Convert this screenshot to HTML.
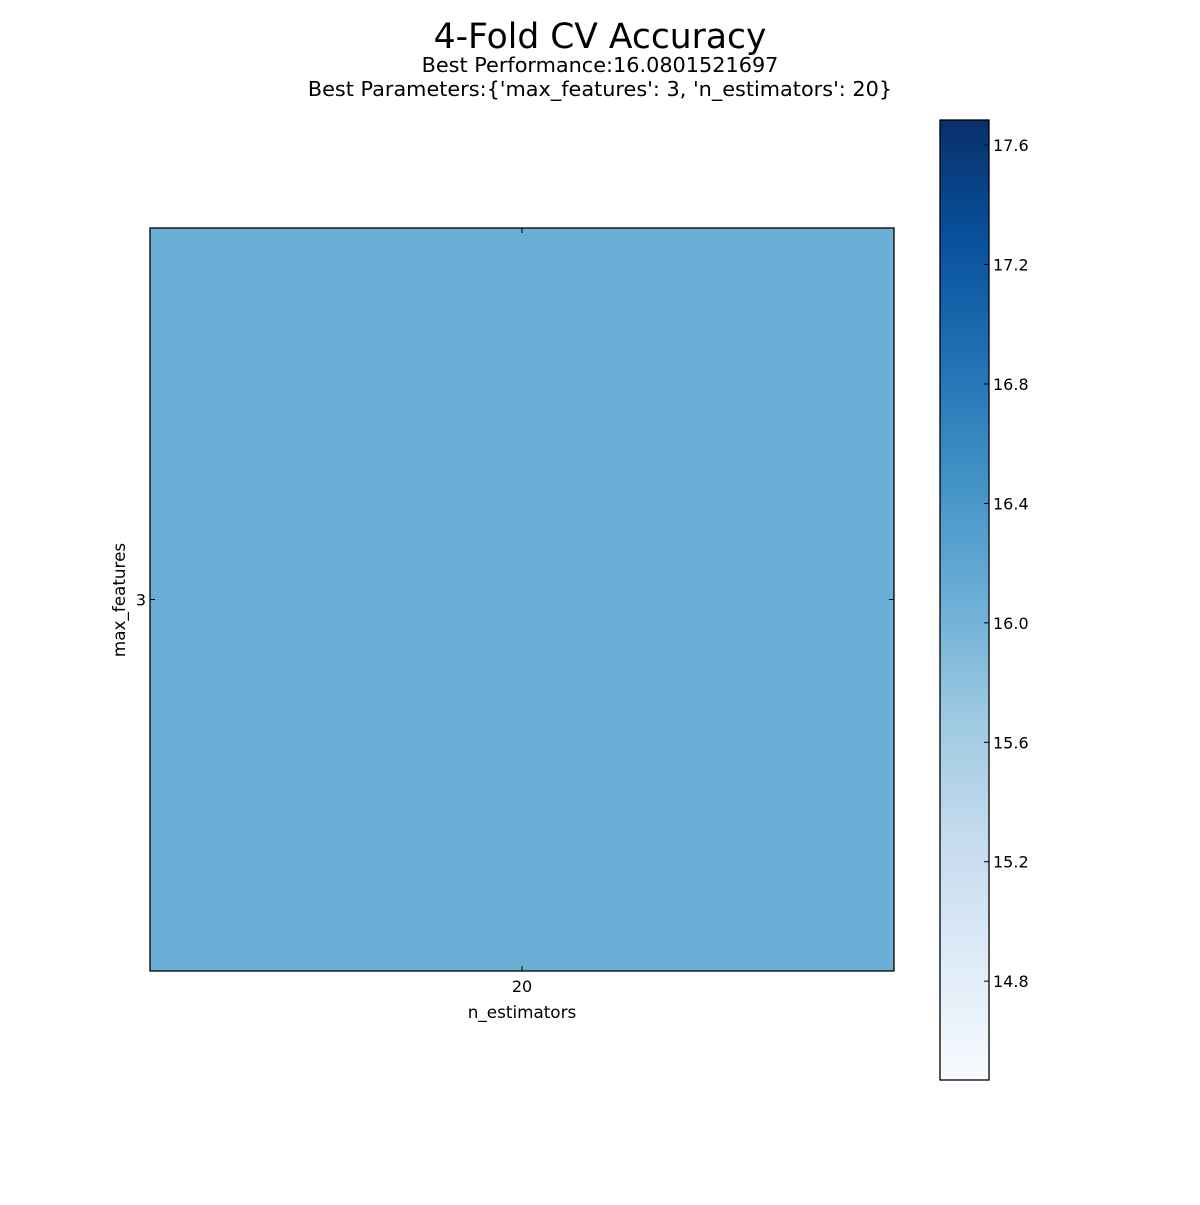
<!DOCTYPE html>
<html><head><meta charset="utf-8"><style>
body{margin:0;background:#fff;}
text{font-family:"DejaVu Sans","Liberation Sans",sans-serif;fill:#000;}
</style></head><body>
<svg id="chart" width="1200" height="1200" viewBox="0 0 1200 1200" xmlns="http://www.w3.org/2000/svg">
<defs>
<linearGradient id="blues" x1="0" y1="1" x2="0" y2="0">
<stop offset="0" stop-color="#f7fbff"/><stop offset="0.125" stop-color="#deebf7"/>
<stop offset="0.25" stop-color="#c6dbef"/><stop offset="0.375" stop-color="#9ecae1"/>
<stop offset="0.5" stop-color="#6baed6"/><stop offset="0.625" stop-color="#4292c6"/>
<stop offset="0.75" stop-color="#2171b5"/><stop offset="0.875" stop-color="#08519c"/>
<stop offset="1" stop-color="#08306b"/>
</linearGradient>
</defs>
<text x="600" y="48" font-size="34.5" text-anchor="middle">4-Fold CV Accuracy</text>
<text x="600" y="72" font-size="20.8" text-anchor="middle">Best Performance:16.0801521697</text>
<text x="600" y="96" font-size="20.8" text-anchor="middle">Best Parameters:{'max_features': 3, 'n_estimators': 20}</text>
<g id="plot"></g>
<g id="cbar"></g>
</svg>
<script>
const xCategories = ["20"];
const yCategories = ["3"];
const cellValues = [[16.0801521697]];
const cbarTicks = [14.8, 15.2, 15.6, 16.0, 16.4, 16.8, 17.2, 17.6];
const vmin = 14.469, vmax = 17.684;

const NS = "http://www.w3.org/2000/svg";
const plot = document.getElementById('plot');
const cbar = document.getElementById('cbar');
function mk(tag, attrs, parent){const e=document.createElementNS(NS,tag);for(const k in attrs)e.setAttribute(k,attrs[k]);parent.appendChild(e);return e;}

const stops = ["#f7fbff","#deebf7","#c6dbef","#9ecae1","#6baed6","#4292c6","#2171b5","#08519c","#08306b"];
function hex(h){return [1,3,5].map(i=>parseInt(h.substr(i,2),16));}
function colorFor(v){
  let t=Math.max(0,Math.min(1,(v-vmin)/(vmax-vmin)))*(stops.length-1);
  const i=Math.min(stops.length-2,Math.floor(t)),f=t-i;
  const a=hex(stops[i]),b=hex(stops[i+1]);
  return 'rgb('+a.map((c,k)=>Math.round(c+(b[k]-c)*f)).join(',')+')';
}

const PX0=150,PX1=894,PY0=228,PY1=971;
const cw=(PX1-PX0)/xCategories.length, ch=(PY1-PY0)/yCategories.length;
const xScale=i=>PX0+cw*i, yScale=j=>PY0+ch*j;

yCategories.forEach((yc,j)=>{
  xCategories.forEach((xc,i)=>{
    const r=mk('rect',{x:xScale(i),y:yScale(j),width:cw,height:ch,fill:colorFor(cellValues[j][i])},plot);
    
    
  });
});
const frame=mk('rect',{x:PX0,y:PY0,width:PX1-PX0,height:PY1-PY0,fill:'none',stroke:'#000','stroke-width':1.3},plot);



xCategories.forEach((xc,i)=>{
  const cx=xScale(i)+cw/2;
  mk('line',{x1:cx,y1:PY0,x2:cx,y2:PY0+5,stroke:'#000'},plot);
  mk('line',{x1:cx,y1:PY1,x2:cx,y2:PY1-5,stroke:'#000'},plot);
  const t=mk('text',{x:cx,y:PY1+21,'font-size':16,'text-anchor':'middle'},plot);
  t.textContent=xc;
  
  
});
yCategories.forEach((yc,j)=>{
  const cy=yScale(j)+ch/2;
  mk('line',{x1:PX0,y1:cy,x2:PX0+5,y2:cy,stroke:'#000'},plot);
  mk('line',{x1:PX1,y1:cy,x2:PX1-5,y2:cy,stroke:'#000'},plot);
  const t=mk('text',{x:PX0-4,y:cy+6,'font-size':16,'text-anchor':'end'},plot);
  t.textContent=yc;
  
  
});
const xt=mk('text',{x:(PX0+PX1)/2,y:1018,'font-size':16.8,'text-anchor':'middle'},plot);
xt.textContent='n_estimators';


const yt=mk('text',{x:125,y:600,'font-size':16.8,'text-anchor':'middle',transform:'rotate(-90 125 600)'},plot);
yt.textContent='max_features';



const CX0=940,CX1=989,CY0=120,CY1=1080;
const cScale=v=>CY1-(v-vmin)/(vmax-vmin)*(CY1-CY0);
const cb=mk('rect',{x:CX0,y:CY0,width:CX1-CX0,height:CY1-CY0,fill:'url(#blues)',stroke:'#000','stroke-width':1.3},cbar);


cbarTicks.forEach(v=>{
  const y=cScale(v);
  mk('line',{x1:CX1-5,y1:y,x2:CX1,y2:y,stroke:'#000'},cbar);
  const t=mk('text',{x:CX1+4,y:y+6,'font-size':16},cbar);
  t.textContent=v.toFixed(1);
  
  
});
</script>
</body></html>
